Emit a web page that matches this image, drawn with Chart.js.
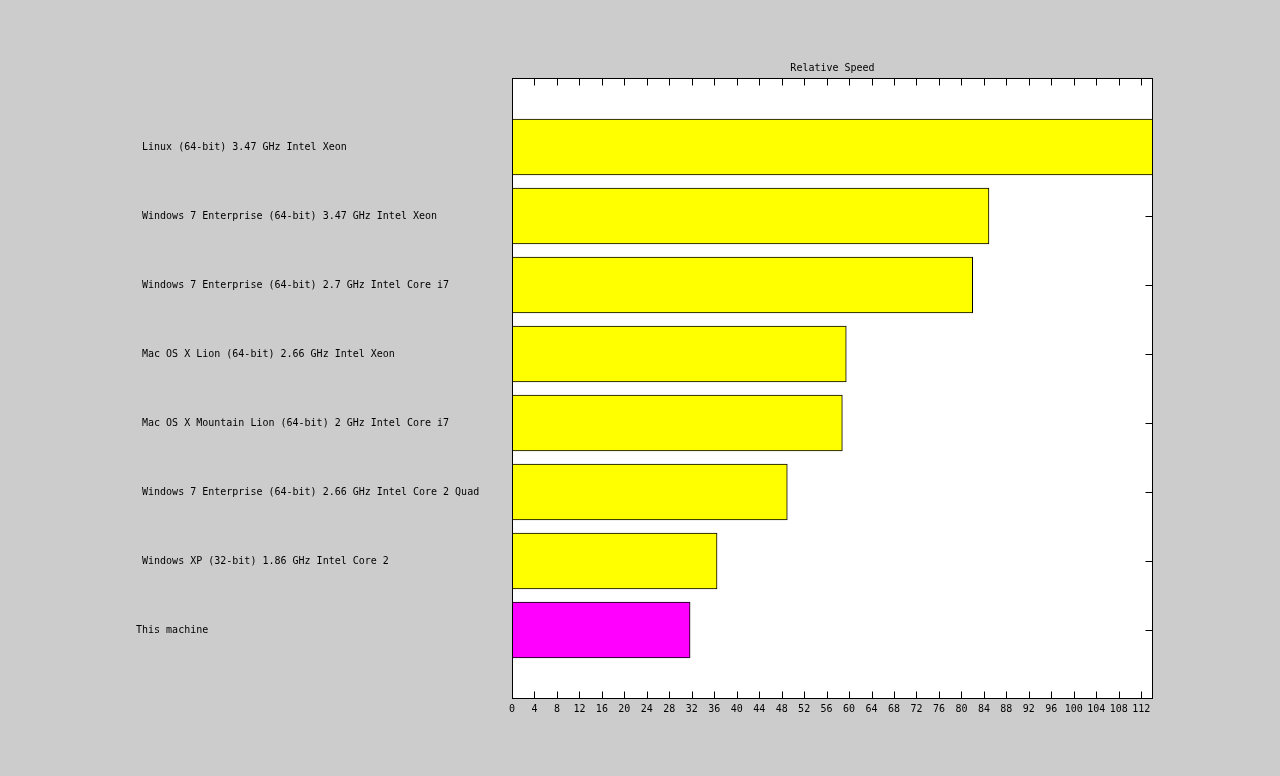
<!DOCTYPE html>
<html>
<head>
<meta charset="utf-8">
<script src="https://cdn.jsdelivr.net/npm/chart.js@4/dist/chart.umd.min.js"></script>
<style>
  html, body { margin: 0; padding: 0; background: #cccccc; }
  #wrap { width: 1280px; height: 776px; }
</style>
</head>
<body>
<div id="wrap"><canvas id="c" width="1280" height="776"></canvas></div>
<script>
const categories = [
  " Linux (64-bit) 3.47 GHz Intel Xeon",
  " Windows 7 Enterprise (64-bit) 3.47 GHz Intel Xeon",
  " Windows 7 Enterprise (64-bit) 2.7 GHz Intel Core i7",
  " Mac OS X Lion (64-bit) 2.66 GHz Intel Xeon",
  " Mac OS X Mountain Lion (64-bit) 2 GHz Intel Core i7",
  " Windows 7 Enterprise (64-bit) 2.66 GHz Intel Core 2 Quad",
  " Windows XP (32-bit) 1.86 GHz Intel Core 2",
  "This machine"
];
const speeds = [114.1, 84.9, 82.0, 59.5, 58.8, 49.0, 36.5, 31.7];
const barColors = ["#ffff00", "#ffff00", "#ffff00", "#ffff00", "#ffff00", "#ffff00", "#ffff00", "#ff00ff"];
const titleText = "Relative Speed";
const tickStep = 4;

const labels = [""].concat(categories, [""]);
const data = [null].concat(speeds, [null]);
const colors = ["#000"].concat(barColors, ["#000"]);
const FONT = { family: "'DejaVu Sans Mono', monospace", size: 10 };
const TL = 7;

function edges(a) {
  return {
    L: Math.round(a.left) + 0.5, R: Math.round(a.right) - 0.5,
    T: Math.round(a.top) + 0.5, B: Math.round(a.bottom) - 0.5
  };
}

const ticksPlugin = {
  id: 'ticksPlugin',
  beforeDatasetsDraw(chart) {
    const ctx = chart.ctx, a = chart.chartArea;
    const xs = chart.scales.x, ys = chart.scales.y;
    const { L, R, T, B } = edges(a);
    ctx.save();
    ctx.fillStyle = '#ffffff';
    ctx.fillRect(a.left, a.top, a.right - a.left, a.bottom - a.top);
    ctx.strokeStyle = '#000';
    ctx.lineWidth = 1;
    ctx.beginPath();
    xs.ticks.forEach((t) => {
      const px = Math.round(xs.getPixelForValue(t.value)) + 0.5;
      ctx.moveTo(px, B); ctx.lineTo(px, B - TL);
      ctx.moveTo(px, T); ctx.lineTo(px, T + TL);
    });
    for (let i = 1; i < labels.length - 1; i++) {
      const py = Math.round(ys.getPixelForValue(i)) + 0.5;
      ctx.moveTo(R, py); ctx.lineTo(R - TL, py);
      ctx.moveTo(L, py); ctx.lineTo(L + TL, py);
    }
    ctx.stroke();
    ctx.restore();
  },
  afterDatasetsDraw(chart) {
    const ctx = chart.ctx;
    const { L, R, T, B } = edges(chart.chartArea);
    ctx.save();
    ctx.strokeStyle = '#000';
    ctx.lineWidth = 1;
    ctx.strokeRect(L, T, R - L, B - T);
    ctx.restore();
  }
};

const bgPlugin = {
  id: 'bg',
  beforeDraw(chart) {
    const ctx = chart.ctx;
    ctx.save();
    ctx.fillStyle = '#cccccc';
    ctx.fillRect(0, 0, chart.width, chart.height);
    ctx.restore();
  }
};

const xMax = Math.max(...speeds);

new Chart(document.getElementById('c'), {
  type: 'bar',
  data: {
    labels: labels,
    datasets: [{
      data: data,
      backgroundColor: colors,
      borderColor: '#000000',
      borderWidth: 1,
      borderSkipped: false,
      barThickness: 56
    }]
  },
  options: {
    indexAxis: 'y',
    responsive: false,
    animation: false,
    devicePixelRatio: 1,
    layout: { padding: { left: 136, right: 127, top: 58, bottom: 57 } },
    plugins: { legend: { display: false }, tooltip: { enabled: false }, title: { display: false } },
    scales: {
      x: {
        type: 'linear',
        position: 'bottom',
        min: 0,
        max: xMax,
        grid: { display: false, drawTicks: false },
        border: { display: false },
        afterBuildTicks(scale) {
          const t = [];
          for (let v = 0; v <= xMax + 1e-9; v += tickStep) t.push({ value: v });
          scale.ticks = t;
        },
        afterFit(scale) { scale.height = 20; },
        ticks: { autoSkip: false, maxRotation: 0, padding: 4, color: '#000', font: FONT }
      },
      x2: {
        type: 'linear',
        position: 'top',
        min: 0,
        max: xMax,
        grid: { display: false, drawTicks: false },
        border: { display: false },
        ticks: { display: false },
        afterFit(scale) { scale.height = 20; },
        title: { display: true, text: titleText, color: '#000', font: FONT, padding: { top: 4, bottom: 5 } }
      },
      y: {
        type: 'category',
        offset: false,
        grid: { display: false, drawTicks: false },
        border: { display: false },
        afterFit(scale) { scale.width = 376; },
        ticks: { crossAlign: 'far', autoSkip: false, color: '#000', font: FONT }
      }
    }
  },
  plugins: [bgPlugin, ticksPlugin]
});
</script>
</body>
</html>
